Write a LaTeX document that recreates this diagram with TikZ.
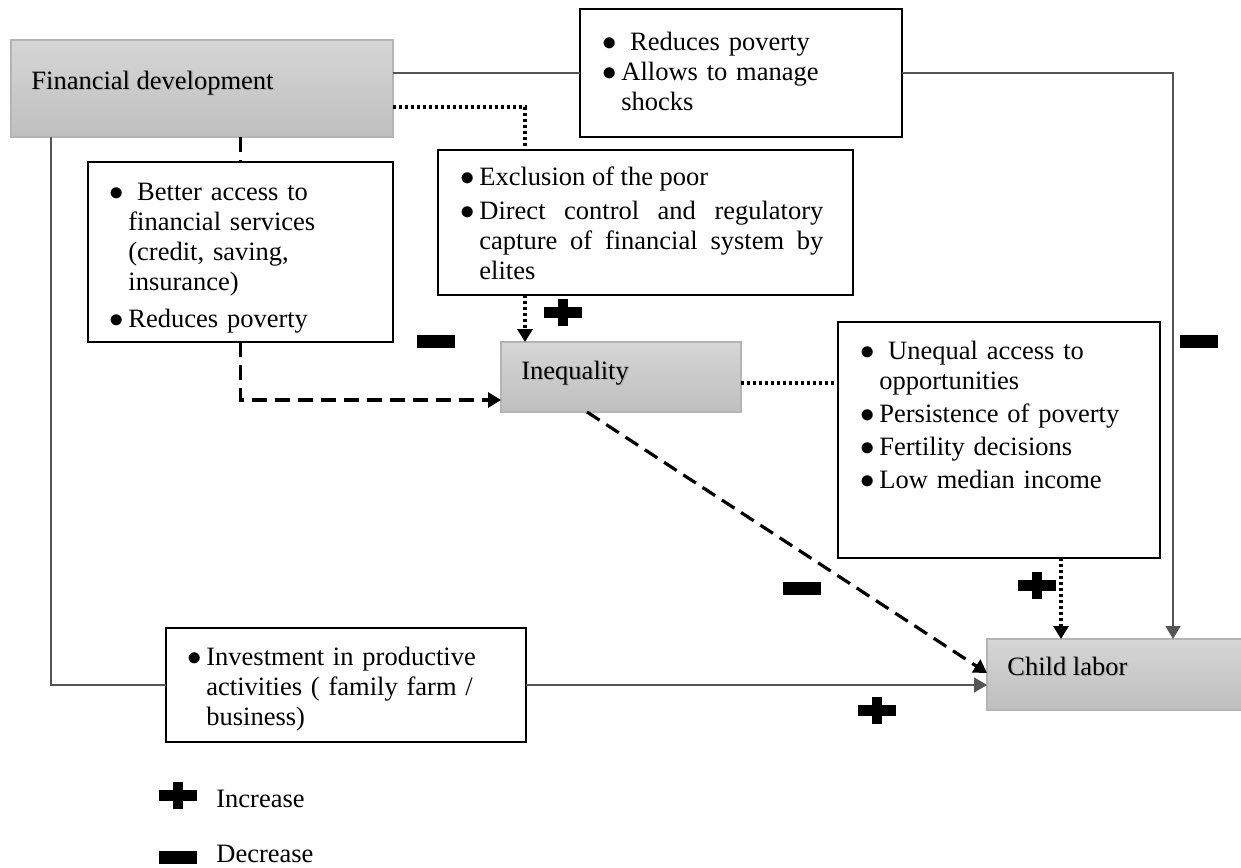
\documentclass[tikz,border=0pt]{standalone}
\usepackage{fontspec}
\setmainfont{Liberation Serif}
\usetikzlibrary{arrows.meta}
\usetikzlibrary{calc}
\usetikzlibrary{positioning}
\definecolor{boxgray}{RGB}{180,180,180}
\definecolor{graytop}{RGB}{214,214,214}
\definecolor{graybot}{RGB}{191,191,191}
\definecolor{linegray}{RGB}{85,85,85}
\newcommand{\bitem}[1]{\noindent\hangindent=9.5pt\hangafter=1\makebox[9.5pt][l]{$\bullet$}#1\par}
\newcommand{\bsep}[1][1.5pt]{\vspace{#1}}
\newcommand{\shtext}[1]{\makebox[0pt][l]{\hspace{0.7pt}\raisebox{-0.7pt}{\textcolor{black!30}{#1}}}#1}
\tikzset{
  listbox/.style={draw=black,line width=1.3pt,rectangle,anchor=north west,outer sep=0pt,inner sep=0pt},
  graybox/.style={draw=boxgray,line width=0.75pt,rectangle,anchor=north west,outer sep=0pt,inner sep=0pt,top color=graytop,bottom color=graybot},
  listtext/.style={anchor=base west,inner sep=0pt,align=left,text width=170pt},
  plain/.style={color=linegray,line width=0.75pt},
  dashlink/.style={line width=1.6pt,dash pattern=on 7.5pt off 4pt},
  dotlink/.style={line width=1.7pt,dash pattern=on 1.6pt off 1.4pt},
  arr/.style={-{Triangle[length=6.5pt,width=7.5pt]}},
  plussign/.pic={\fill (-19,-5.5) rectangle (19,5.5); \fill (-5,-13.5) rectangle (5,13.5);},
  minussign/.pic={\fill (-19,-6.5) rectangle (19,6.5);}
}
\begin{document}
\begin{tikzpicture}[x=0.5pt,y=-0.5pt,line cap=butt,font=\fontsize{13.25}{15}\selectfont]
\useasboundingbox (0,0) rectangle (1241,867);
\node[graybox,minimum width=191pt,minimum height=48.5pt] (fd) at (11,40) {};
\node[listbox,minimum width=161pt,minimum height=64pt] (rpov) at (580,9) {};
\node[listbox,minimum width=152.5pt,minimum height=90pt] (bet) at (88,162) {};
\node[listbox,minimum width=207.5pt,minimum height=72.5pt] (exc) at (438,150) {};
\node[graybox,minimum width=120pt,minimum height=35pt] (ineq) at (501,342) {};
\node[listbox,minimum width=161pt,minimum height=118pt] (une) at (838,322) {};
\node[graybox,minimum width=130pt,minimum height=35.5pt] (cl) at (987,639) {};
\node[listbox,minimum width=180pt,minimum height=57pt] (inv) at (166,628) {};
\node[anchor=base west,inner sep=0pt] (fdtxt) at (31,89) {\shtext{Financial development}};
\node[anchor=base west,inner sep=0pt] (ineqtxt) at (521,379) {\shtext{Inequality}};
\node[anchor=base west,inner sep=0pt] (cltxt) at (1007,675) {\shtext{Child labor}};
\node[listtext] (rpovtxt) at (602,50) {\bitem{\ Reduces poverty}\bitem{Allows to manage\newline shocks}};
\node[listtext] (bettxt) at (109,200) {\bitem{\ Better access to\newline financial services\newline (credit, saving,\newline insurance)}\bsep[3.5pt]\bitem{Reduces poverty}};
\node[listtext,align=justify,text width=181.5pt,execute at begin node={\tolerance=10000\hyphenpenalty=10000}] (exctxt) at (460,185) {\bitem{Exclusion of the poor}\bsep[2pt]\bitem{Direct control and regulatory\linebreak capture of financial system by\linebreak elites}};
\node[listtext] (unetxt) at (860,359) {\bitem{\ Unequal access to\newline opportunities}\bsep\bitem{Persistence of poverty}\bsep\bitem{Fertility decisions}\bsep\bitem{Low median income}};
\node[listtext] (invtxt) at (187,665) {\bitem{Investment in productive\newline activities ( family farm /\newline business)}};
\draw[plain] (rpov.west -| fd.east) -- (rpov.west);
\draw[plain,arr] (rpov.east) -| ($(cl.north west)+(186,0)$);
\draw[plain] (fd.south west) ++(40,0) |- (inv.west);
\draw[plain,arr] (inv.east) -- (inv.east -| cl.west);
\draw[dashlink] (bet.north |- fd.south) -- (bet.north);
\draw[dashlink,arr] (bet.south) |- ($(ineq.west)+(0,23)$);
\draw[dotlink] ($(fd.east)+(0,18.5)$) -| ($(exc.north west)+(87,0)$);
\draw[dotlink,arr] ($(exc.south west)+(87,0)$) -- ($(ineq.north west)+(24,0)$);
\draw[dotlink] ([yshift=-3pt]ineq.east) -- ([yshift=-3pt]ineq.east -| une.west);
\draw[dotlink,arr] ([xshift=31pt]une.south) -- ([xshift=31pt]une.south |- cl.north);
\draw[dashlink,arr] ($(ineq.south west)+(86,0)$) -- ($(cl.north west)+(0,34)$);
\pic at (563,312) {plussign};
\pic at (1037,585) {plussign};
\pic at (877,710) {plussign};
\pic at (436,341.5) {minussign};
\pic at (1199,341.5) {minussign};
\pic at (802,588.5) {minussign};
\pic at (177.5,795) {plussign};
\pic at (177.5,857.5) {minussign};
\node[anchor=base west,inner sep=0pt] (incr) at (216,807) {Increase};
\node[anchor=base west,inner sep=0pt] (decr) at (216,862) {Decrease};
\end{tikzpicture}
\end{document}
